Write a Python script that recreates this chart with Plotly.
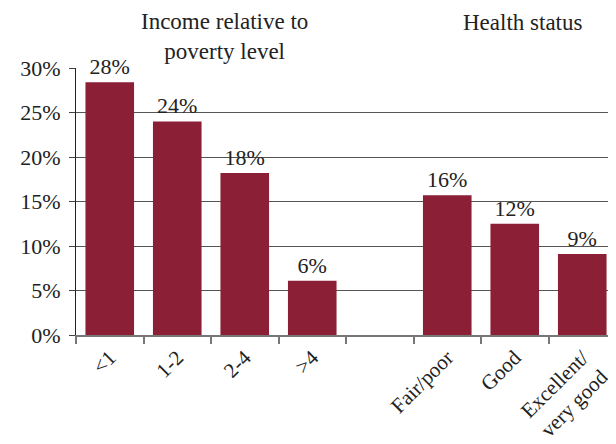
import plotly.graph_objects as go

categories = ["<1", "1-2", "2-4", ">4", " ", "Fair/poor", "Good", "Excellent/<br>very good"]
values = [28.4, 24.0, 18.2, 6.1, None, 15.7, 12.5, 9.1]
labels = ["28%", "24%", "18%", "6%", "", "16%", "12%", "9%"]
y_ticks = [0, 5, 10, 15, 20, 25, 30]
y_tick_labels = ["0%", "5%", "10%", "15%", "20%", "25%", "30%"]
group_titles = ["Income relative to<br>poverty level", "Health status"]

FONT = "Liberation Serif"
BAR = "#8B1F36"

fig = go.Figure(go.Bar(
    x=categories, y=values, text=labels, textposition="outside",
    marker=dict(color=BAR, line=dict(width=0)), width=0.72,
    cliponaxis=False, textfont=dict(family=FONT, size=22, color="#222"),
    hoverinfo="skip",
))

# page body has an 8px margin, so the figure is 8px smaller and shifted
fig.update_layout(
    width=608, height=436,
    margin=dict(l=68, r=0, t=60, b=109),
    paper_bgcolor="white", plot_bgcolor="white",
    showlegend=False,
    font=dict(family=FONT, size=21, color="#222"),
)
fig.update_xaxes(
    type="category", categoryorder="array", categoryarray=categories,
    tickson="boundaries", ticks="outside", ticklen=7, tickcolor="#777", tickwidth=2,
    showline=True, linecolor="#777", linewidth=2, automargin=False,
    showgrid=False, tickangle=-45, tickfont=dict(family=FONT, size=21, color="#222"),
)
fig.update_yaxes(
    range=[0, 30], tickvals=y_ticks, ticktext=y_tick_labels, automargin=False,
    ticks="outside", ticklen=6, tickcolor="#444", showline=True, linecolor="#222", linewidth=1,
    showgrid=True, gridcolor="#555", gridwidth=1, zeroline=False, ticklabelstandoff=4,
    tickfont=dict(family=FONT, size=22, color="#222"),
)
fig.add_annotation(text=group_titles[0], xref="paper", yref="paper",
                   x=(224 - 76) / 540, y=1.0 + 2 / 267, xanchor="center", yanchor="bottom",
                   showarrow=False, font=dict(family=FONT, size=23, color="#222"))
fig.add_annotation(text=group_titles[1], xref="paper", yref="paper",
                   x=(522 - 76) / 540, y=1.0 + 31 / 267, xanchor="center", yanchor="bottom",
                   showarrow=False, font=dict(family=FONT, size=23, color="#222"))

fig.write_html("out.html")
